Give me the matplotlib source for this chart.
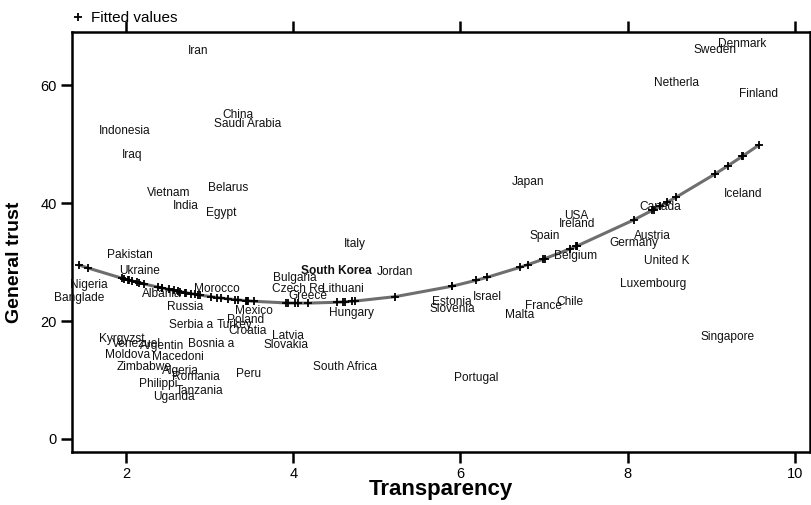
import numpy as np
import matplotlib.pyplot as plt

plt.rcParams['font.family'] = ['Liberation Sans', 'DejaVu Sans']

# country labels, transparency (x) and general trust (y)
countries = ["Iran", "Denmark", "Sweden", "Netherla", "Finland", "China", "Saudi Arabia",
             "Indonesia", "Iraq", "Japan", "Belarus", "Vietnam", "Iceland", "India", "Egypt",
             "Canada", "USA", "Ireland", "Spain", "Austria", "Italy", "Germany", "Pakistan",
             "Belgium", "United K", "Ukraine", "South Korea", "Jordan", "Bulgaria", "Nigeria",
             "Luxembourg", "Czech Re", "Lithuani", "Morocco", "Albania", "Greece", "Banglade",
             "Israel", "Estonia", "Chile", "Russia", "France", "Slovenia", "Mexico", "Hungary",
             "Malta", "Poland", "Serbia a", "Turkey", "Croatia", "Latvia", "Singapore",
             "Kyrgyzst", "Venezuel", "Argentin", "Bosnia a", "Slovakia", "Moldova", "Macedoni",
             "Zimbabwe", "Algeria", "South Africa", "Peru", "Romania", "Portugal", "Philippi",
             "Tanzania", "Uganda"]
transparency = [2.86, 9.37, 9.04, 8.58, 9.57, 3.34, 3.45,
                1.98, 2.07, 6.81, 3.22, 2.51, 9.38, 2.72, 3.14,
                8.39, 7.39, 7.39, 7.01, 8.29, 4.74, 8.07, 2.04,
                7.38, 8.47, 2.16, 4.52, 5.22, 4.02, 1.55,
                8.31, 4.06, 4.59, 3.09, 2.43, 4.18, 1.44,
                6.32, 5.90, 7.31, 2.71, 6.99, 5.90, 3.53, 4.70,
                6.71, 3.43, 2.78, 3.30, 3.45, 3.94, 9.20,
                1.95, 2.13, 2.43, 3.02, 3.91, 2.02, 2.62,
                2.22, 2.65, 4.62, 3.46, 2.83, 6.19, 2.38,
                2.88, 2.57]
trust = [65.8, 66.9, 65.9, 60.3, 58.5, 54.9, 53.4,
         52.2, 48.1, 43.6, 42.5, 41.7, 41.5, 39.5, 38.3,
         39.3, 37.8, 36.4, 34.4, 34.4, 33.1, 33.2, 31.2,
         31.0, 30.2, 28.5, 28.5, 28.3, 27.3, 26.1,
         26.3, 25.4, 25.4, 25.4, 24.6, 24.2, 23.9,
         24.1, 23.2, 23.2, 22.4, 22.5, 22.0, 21.7, 21.4,
         21.0, 20.2, 19.3, 19.3, 18.3, 17.5, 17.3,
         16.9, 16.1, 15.8, 16.1, 15.9, 14.2, 13.9,
         12.2, 11.5, 12.2, 11.0, 10.5, 10.3, 9.3,
         8.1, 7.1]

x = np.array(transparency)
y = np.array(trust)

fig = plt.figure(figsize=(8.12, 5.05), dpi=100)
ax = fig.add_axes([0.0887, 0.105, 0.9088, 0.8316])

for name, xi, yi in zip(countries, transparency, trust):
    ax.text(xi, yi, name, ha='center', va='center', fontsize=8.6, color='#111111',
            fontweight='bold' if name == "South Korea" else 'normal')

# quadratic fit
coef = np.polyfit(x, y, 2)
xs = np.sort(x)
fit = np.polyval(coef, xs)
ax.plot(xs, fit, color='#6e6e6e', lw=2.2, zorder=2)
ax.plot(xs, fit, ls='none', marker='+', color='black', ms=6, mew=1.3,
        label='Fitted values', zorder=3)

ax.set_xlim(1.354, 10.18)
ax.set_ylim(-2.2, 69.0)
ax.set_xticks([2, 4, 6, 8, 10])
ax.set_yticks([0, 20, 40, 60])
ax.tick_params(axis='both', direction='out', length=8, width=1.8, labelsize=10.5,
               top=True, right=True, pad=3)
for s in ax.spines.values():
    s.set_linewidth(1.8)

ax.set_xlabel('Transparency', fontsize=16, fontweight='bold')
ax.xaxis.set_label_coords(0.5, -0.064)
ax.set_ylabel('General trust', fontsize=14, fontweight='bold')
ax.yaxis.set_label_coords(-0.066, 0.452)

ax.legend(loc='lower left', bbox_to_anchor=(-0.01, 0.995), frameon=False,
          fontsize=11, handlelength=0.6, handletextpad=0.5, borderpad=0.1)

fig.savefig('out.png', dpi=100)
